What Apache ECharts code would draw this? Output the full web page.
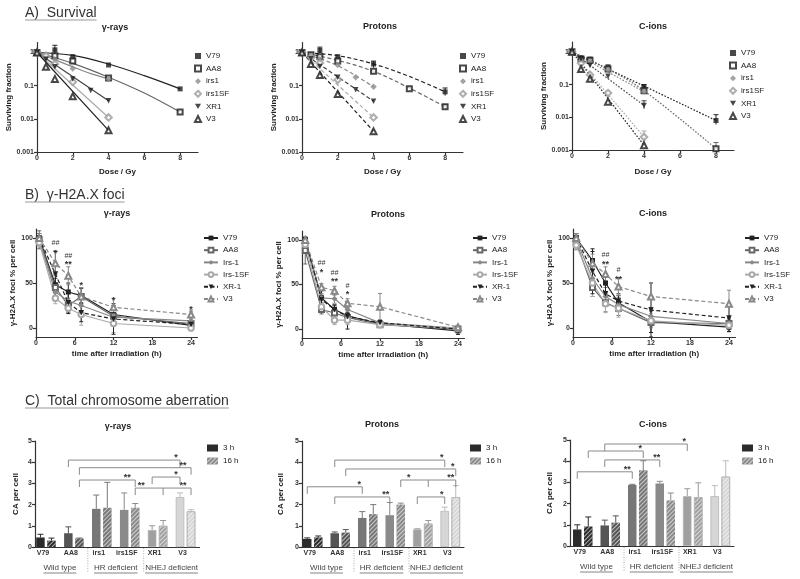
<!DOCTYPE html>
<html><head><meta charset="utf-8">
<script src="https://cdn.jsdelivr.net/npm/echarts@6/dist/echarts.min.js"></script>
<style>html,body{margin:0;padding:0;background:#fff}#c{width:800px;height:579px}</style>
</head><body><div id="c"></div>
<script>
const FONT = '"Liberation Sans", Arial, Helvetica, sans-serif';
const DOWN_TRI = 'path://M0,0L10,0L5,9Z';

// ================= DATA =================
// ---- A) Survival ----
const survCells = ['V79','AA8','irs1','irs1SF','XR1','V3'];
const doseTicks = [0,2,4,6,8];
const sfTicks = [0.001,0.01,0.1,1];

const survGammaPts = [
  [[0,1],[1,1.2],[2,0.75],[4,0.42],[8,0.08]],
  [[0,1],[1,0.8],[2,0.55],[4,0.17],[8,0.016]],
  [[0,1],[0.5,0.85],[1,0.62],[2,0.33],[4,0.16]],
  [[0,1],[0.5,0.8],[1,0.45],[2,0.13],[4,0.011]],
  [[0,1],[0.5,0.62],[1,0.37],[2,0.16],[3,0.072],[4,0.035]],
  [[0,1],[0.5,0.37],[1,0.16],[2,0.048],[4,0.0045]]
];
const survGammaFit = [
  [[0,1],[2,0.82],[4,0.45],[6,0.2],[8,0.08]],
  [[0,1],[2,0.47],[4,0.18],[6,0.06],[8,0.016]],
  [[0,1],[1,0.6],[2,0.37],[3,0.23],[4,0.16]],
  [[0,1],[4,0.011]],
  [[0,1],[4,0.035]],
  [[0,1],[4,0.0045]]
];
const survGammaErr = [[1,0.85,1.65,0]];

const survProtPts = [
  [[0,1],[1,1.15],[2,0.75],[4,0.45],[8,0.065]],
  [[0,1],[0.5,0.85],[1,0.75],[2,0.55],[4,0.27],[6,0.08],[8,0.023]],
  [[0,1],[0.5,0.8],[1,0.62],[2,0.42],[3,0.18],[4,0.093]],
  [[0,1],[0.5,0.7],[1,0.48],[2,0.15],[4,0.011]],
  [[0,1],[0.5,0.65],[1,0.38],[2,0.18],[3,0.075],[4,0.034]],
  [[0,1],[0.5,0.45],[1,0.21],[2,0.056],[4,0.0042]]
];
const survProtFit = [
  [[0,1],[2,0.8],[4,0.45],[6,0.19],[8,0.065]],
  [[0,1],[2,0.58],[4,0.27],[6,0.085],[8,0.023]],
  [[0,1],[1,0.65],[2,0.4],[3,0.2],[4,0.093]],
  [[0,1],[4,0.011]],
  [[0,1],[4,0.034]],
  [[0,1],[4,0.0042]]
];
const survProtErr = [[1,0.95,1.45,0],[4,0.35,0.55,0],[8,0.05,0.085,0],[8,0.02,0.027,1]];

const survCionPts = [
  [[0,1],[0.5,0.65],[1,0.6],[2,0.35],[4,0.085],[8,0.008]],
  [[0,1],[0.5,0.6],[1,0.55],[2,0.3],[4,0.065],[8,0.0011]],
  [[0,1],[0.5,0.55],[1,0.5],[2,0.28],[4,0.06]],
  [[0,1],[0.5,0.45],[1,0.2],[2,0.055],[4,0.0025]],
  [[0,1],[0.5,0.6],[1,0.38],[2,0.18],[4,0.023]],
  [[0,1],[0.5,0.3],[1,0.15],[2,0.03],[4,0.0014]]
];
const survCionFit = [
  [[0,1],[4,0.09],[8,0.008]],
  [[0,1],[2,0.3],[4,0.065],[8,0.0011]],
  [[0,1],[4,0.06]],
  [[0,1],[4,0.0025]],
  [[0,1],[4,0.023]],
  [[0,1],[4,0.0014]]
];
const survCionErr = [[8,0.006,0.012,0],[8,0.0009,0.0017,1],[4,0.0015,0.0038,3],[4,0.018,0.032,4],[4,0.07,0.1,0]];

// ---- B) gamma-H2A.X foci ----
const fociCells = ['V79','AA8','Irs-1','Irs-1SF','XR-1','V3'];
const fociTimes = [0.5,3,5,7,12,24];
const timeTicks = [0,6,12,18,24];
const fociTicks = [0,50,100];
const fociGamma = [
  [100,48,40,36,15,3],
  [98,45,25,35,13,5],
  [97,40,30,25,12,8],
  [95,33,22,15,5,0],
  [100,60,28,17,10,4],
  [100,72,58,35,23,15]
];
const fociGammaErr = [
  [5,12,10,8,10,5],
  [10,10,8,10,8,8],
  [5,10,12,12,10,10],
  [5,6,5,12,10,3],
  [5,25,12,10,17,4],
  [5,14,10,10,10,5]
];
const fociProt = [
  [100,35,22,15,6,-2],
  [88,22,18,13,5,0],
  [100,35,34,22,7,1],
  [95,25,10,10,5,1],
  [100,33,22,14,7,0],
  [100,47,43,29,25,2]
];
const fociProtErr = [
  [3,8,5,15,3,4],
  [15,5,3,5,3,3],
  [3,5,5,5,3,2],
  [5,5,5,5,3,2],
  [3,5,5,5,3,3],
  [3,4,5,5,15,2]
];
const fociCion = [
  [100,75,50,28,7,1],
  [95,45,28,22,6,5],
  [98,55,35,26,13,5],
  [92,50,27,22,8,3],
  [100,63,38,30,20,11],
  [100,72,60,46,35,27]
];
const fociCionErr = [
  [5,10,10,8,12,5],
  [8,10,10,8,5,5],
  [5,10,10,8,10,5],
  [5,15,10,10,8,5],
  [5,25,10,8,30,15],
  [5,10,8,10,15,15]
];
const starsGamma = [[3,94,'##'],[3,86,'*'],[5,80,'##'],[5,73,'**'],[7,50,'*'],[12,33,'*'],[24,23,'*']];
const starsProt = [[3,74,'##'],[3,66,'*'],[5,63,'##'],[5,56,'**'],[7,48,'#'],[7,42,'*']];
const starsCion = [[5,81,'##'],[5,73,'**'],[7,64,'#'],[7,57,'**']];

// ---- C) Total chromosome aberration ----
const caCells = ['V79','AA8','irs1','irs1SF','XR1','V3'];
const caGroups = [['Wild type',0,1],['HR deficient',2,3],['NHEJ deficient',4,5]];
const caGamma3h = [0.45,0.65,1.8,1.75,0.8,2.35];
const caGamma3hErr = [0.15,0.3,0.65,0.8,0.2,0.2];
const caGamma16h = [0.3,0.4,1.85,1.85,1.0,1.68];
const caGamma16hErr = [0.12,0.02,1.2,0.2,0.25,0.08];
const caProt3h = [0.38,0.65,1.37,1.5,0.83,1.7];
const caProt3hErr = [0.05,0.06,0.3,0.6,0.03,0.18];
const caProt16h = [0.45,0.68,1.55,2.0,1.1,2.35];
const caProt16hErr = [0.07,0.14,0.45,0.07,0.15,0.55];
const caCion3h = [0.78,0.97,2.88,2.95,2.35,2.35];
const caCion3hErr = [0.22,0.25,0.03,0.1,0.35,0.5];
const caCion16h = [0.92,1.1,3.57,2.15,2.3,3.27];
const caCion16hErr = [0.45,0.32,0.45,0.35,0.68,0.75];
// brackets: [y, [[cat,side],...], [[cat,side,dx,label],...]]
const bracketsGamma = [
  [4.1,[[1,-1],[5,-1]],[[5,-1,-4,'*']]],
  [3.74,[[1,1],[5,1]],[[5,1,-8,'**']]],
  [3.16,[[1,1],[3,1]],[[3,1,-8,'**']]],
  [2.78,[[3,1],[4,1],[5,1]],[[3,1,6,'**'],[5,1,-8,'**']]],
  [3.3,[[4,-1],[5,-1]],[[5,-1,-4,'*']]]
];
const bracketsProt = [
  [4.1,[[1,-1],[5,-1]],[[5,-1,-3,'*']]],
  [3.68,[[1,1],[5,1]],[[5,1,-3,'*']]],
  [2.84,[[0,-1],[2,-1]],[[2,-1,-3,'*']]],
  [2.36,[[1,-1],[3,-1]],[[3,-1,-4,'**']]],
  [3.16,[[3,1],[4,1],[5,1]],[[3,1,8,'*'],[5,1,-5,'**']]],
  [2.36,[[4,-1],[5,-1]],[[5,-1,-3,'*']]]
];
const bracketsCion = [
  [4.81,[[1,-1],[4,-1]],[[4,-1,-3,'*']]],
  [4.48,[[0,1],[2,1]],[[2,1,-3,'*']]],
  [4.06,[[1,-1],[3,-1]],[[3,-1,-3,'**']]],
  [3.5,[[0,-1],[2,-1]],[[2,-1,-5,'**']]]
];

// ================= STYLE / LAYOUT =================
const mctx = document.createElement('canvas').getContext('2d');
function tw(t, f){ mctx.font = f; return mctx.measureText(t).width; }

const survSym = ['rect','emptyRect','diamond','emptyDiamond',DOWN_TRI,'emptyTriangle'];
const survSize = [5,5,6.5,6.5,5.5,6];
const survCol = ['#1a1a1a','#1a1a1a','#8c8c8c','#9a9a9a','#1a1a1a','#1a1a1a'];
const survFitCol = ['#222','#666','#888','#aaa','#444','#222'];
const fociSym = ['rect','emptyRect','diamond','emptyCircle',DOWN_TRI,'emptyTriangle'];
const fociSize = [5,5,6,5.5,5.5,6];
const fociCol = ['#222','#666','#888','#aaa','#222','#888'];
const barShades = ['#2b2b2b','#555555','#777777','#8a8a8a','#a0a0a0','#d6d6d6'];
const errShades = ['#2b2b2b','#555555','#777777','#8a8a8a','#9a9a9a','#bbbbbb'];
const hatch = {symbol:'rect', symbolSize:1, color:'rgba(255,255,255,0.6)', dashArrayX:[1,0], dashArrayY:[1,1.3], rotation:-Math.PI/4};

const axLine = {show:true, onZero:false, lineStyle:{color:'#333', width:1.2}};
const axTickStyle = {show:true, length:3, lineStyle:{color:'#333', width:1.2}};
const axLabelStyle = {fontSize:7, fontWeight:'bold', color:'#333', fontFamily:FONT, margin:3};
const nameStyle = {fontSize:8, fontWeight:'bold', color:'#222', fontFamily:FONT};
const legendText = {fontSize:8, color:'#222', fontFamily:FONT, lineHeight:10};

const grids=[], xAxes=[], yAxes=[], series=[], legends=[], graphic=[];

function errRange(gi, arr, colors, cap, bothCaps, dxFn){
  return {type:'custom', xAxisIndex:gi, yAxisIndex:gi, silent:true, z:1, clip:false,
    data:arr, encode:{x:0, y:[1,2]},
    renderItem:(p, api)=>{
      const lo = api.coord([api.value(0), api.value(1)]);
      const hi = api.coord([api.value(0), api.value(2)]);
      const dx = dxFn ? dxFn(api) : 0;
      const x = lo[0]+dx;
      const st = {stroke:colors[api.value(3)], lineWidth:1};
      const ch = [
        {type:'line', shape:{x1:x, y1:lo[1], x2:x, y2:hi[1]}, style:st},
        {type:'line', shape:{x1:x-cap, y1:hi[1], x2:x+cap, y2:hi[1]}, style:st}
      ];
      if (bothCaps) ch.push({type:'line', shape:{x1:x-cap, y1:lo[1], x2:x+cap, y2:lo[1]}, style:st});
      return {type:'group', children:ch};
    }};
}
function txt(x, y, t, font, fill, align, valign){
  return {type:'text', x:x, y:y, style:{text:t, font:font, fill:fill||'#222', textAlign:align||'center', align:align||'center', textVerticalAlign:valign||'middle', verticalAlign:valign||'middle'}};
}

// ---------- headers ----------
[['A)  Survival',13],['B)  \u03b3-H2A.X foci',195],['C)  Total chromosome aberration',401]].forEach(h=>{
  const f = '14px '+FONT;
  graphic.push(txt(25, h[1], h[0], f, '#333', 'left', 'middle'));
  graphic.push({type:'line', shape:{x1:25, y1:h[1]+7, x2:25+tw(h[0], f), y2:h[1]+7}, style:{stroke:'#999', lineWidth:1}});
});

// ---------- A panels ----------
const survPanels = [
  {pts:survGammaPts, fit:survGammaFit, err:survGammaErr, dash:'solid', title:'\u03b3-rays', tx:115, ty:28,
   grid:{left:37, top:42.5, width:161, height:109.5}, lgLeft:194, lgTop:51, xGap:16},
  {pts:survProtPts, fit:survProtFit, err:survProtErr, dash:[4,2.5], title:'Protons', tx:380, ty:27,
   grid:{left:302, top:42.5, width:161, height:109.5}, lgLeft:459, lgTop:51, xGap:16},
  {pts:survCionPts, fit:survCionFit, err:survCionErr, dash:[1.6,1.6], title:'C-ions', tx:653, ty:27,
   grid:{left:572, top:42, width:162, height:108}, lgLeft:729, lgTop:48, xGap:18}
];
survPanels.forEach((P, p)=>{
  const gi = grids.length;
  grids.push(P.grid);
  xAxes.push({type:'value', gridIndex:gi, min:0, max:9, axisLine:axLine,
    axisTick:Object.assign({customValues:doseTicks}, axTickStyle),
    axisLabel:Object.assign({customValues:doseTicks}, axLabelStyle),
    splitLine:{show:false}, name:'Dose / Gy', nameLocation:'middle', nameGap:P.xGap, nameTextStyle:nameStyle});
  yAxes.push({type:'log', logBase:10, gridIndex:gi, min:0.001, max:2, axisLine:axLine,
    axisTick:Object.assign({customValues:sfTicks}, axTickStyle),
    axisLabel:Object.assign({customValues:sfTicks, formatter:v=>String(+(+v).toPrecision(2))}, axLabelStyle),
    minorTick:{show:false}, splitLine:{show:false},
    name:'Surviving fraction', nameLocation:'middle', nameGap:22.5, nameTextStyle:nameStyle});
  P.fit.forEach((d,k)=>series.push({type:'line', name:'fit'+p+'_'+k, xAxisIndex:gi, yAxisIndex:gi, data:d,
    smooth:0.35, symbol:'none', silent:true, z:2, lineStyle:{color:survFitCol[k], width:1.2, type:P.dash}}));
  series.push(errRange(gi, P.err, survFitCol, 2.5, false));
  P.pts.forEach((d,k)=>series.push({type:'scatter', name:'A:'+survCells[k], xAxisIndex:gi, yAxisIndex:gi, data:d,
    symbol:survSym[k], symbolSize:survSize[k], itemStyle:{color:survCol[k], borderWidth:1}, z:4}));
  legends.push({orient:'vertical', left:P.lgLeft, top:P.lgTop, padding:0, itemGap:2.6, itemWidth:6, itemHeight:6,
    selectedMode:false, data:survCells.map(c=>'A:'+c), formatter:n=>n.slice(2), textStyle:legendText});
  graphic.push(txt(P.tx, P.ty, P.title, 'bold 9px '+FONT, '#222'));
});

// ---------- B panels ----------
const fociPanels = [
  {vals:fociGamma, err:fociGammaErr, stars:starsGamma, title:'\u03b3-rays', tx:117, ty:214,
   grid:{left:36, top:229, width:161.5, height:108}, lgLeft:203},
  {vals:fociProt, err:fociProtErr, stars:starsProt, title:'Protons', tx:388, ty:215,
   grid:{left:302, top:231, width:162.5, height:107}, lgLeft:472},
  {vals:fociCion, err:fociCionErr, stars:starsCion, title:'C-ions', tx:653, ty:214,
   grid:{left:573, top:229, width:162.5, height:108}, lgLeft:744}
];
fociPanels.forEach((P, p)=>{
  const gi = grids.length;
  grids.push(P.grid);
  xAxes.push({type:'value', gridIndex:gi, min:0, max:25, axisLine:axLine,
    axisTick:Object.assign({customValues:timeTicks}, axTickStyle),
    axisLabel:Object.assign({customValues:timeTicks}, axLabelStyle),
    splitLine:{show:false}, name:'time after irradiation (h)', nameLocation:'middle', nameGap:13, nameTextStyle:nameStyle});
  yAxes.push({type:'value', gridIndex:gi, min:-10, max:110, axisLine:axLine,
    axisTick:Object.assign({customValues:fociTicks}, axTickStyle),
    axisLabel:Object.assign({customValues:fociTicks}, axLabelStyle),
    splitLine:{show:false}, name:'\u03b3-H2A.X foci % per cell', nameLocation:'middle', nameGap:19.5, nameTextStyle:nameStyle});
  const errData = [];
  P.vals.forEach((row,k)=>row.forEach((v,i)=>errData.push([fociTimes[i], v-P.err[k][i], v+P.err[k][i], k])));
  series.push(errRange(gi, errData, fociCol, 2, true));
  P.vals.forEach((row,k)=>series.push({type:'line', name:'B:'+fociCells[k], xAxisIndex:gi, yAxisIndex:gi,
    data:fociTimes.map((t,i)=>[t,row[i]]), symbol:fociSym[k], symbolSize:fociSize[k], z:3,
    lineStyle:{color:fociCol[k], width:1.2, type:k>=4?[4,2.5]:'solid'}, itemStyle:{color:fociCol[k], borderWidth:1}}));
  const st = P.stars;
  series.push({type:'custom', xAxisIndex:gi, yAxisIndex:gi, silent:true, z:6, clip:false,
    data:st.map(s=>[s[0],s[1]]),
    renderItem:(prm, api)=>{
      const pt = api.coord([api.value(0), api.value(1)]);
      const t = st[prm.dataIndex][2];
      const dy = t.indexOf('*')>=0 ? 2.5 : 0;
      return txt(pt[0], pt[1]+dy, t, (t.indexOf('#')>=0?'italic 7px ':'bold 9px ')+FONT, '#333');
    }});
  legends.push({orient:'vertical', left:P.lgLeft, top:233, padding:0, itemGap:2.2, itemWidth:14, itemHeight:6,
    selectedMode:false, data:fociCells.map(c=>'B:'+c), formatter:n=>n.slice(2), textStyle:legendText});
  graphic.push(txt(P.tx, P.ty, P.title, 'bold 9px '+FONT, '#222'));
});

// ---------- C panels ----------
const caPanels = [
  {v3:caGamma3h, e3:caGamma3hErr, v16:caGamma16h, e16:caGamma16hErr, br:bracketsGamma, title:'\u03b3-rays', tx:118, ty:427,
   grid:{left:32, top:441, width:167.5, height:106}, yOff:-3, nameGap:15.5, lgLeft:207, lgTop:443},
  {v3:caProt3h, e3:caProt3hErr, v16:caProt16h, e16:caProt16hErr, br:bracketsProt, title:'Protons', tx:382, ty:425,
   grid:{left:299, top:441, width:165, height:106}, yOff:-3, nameGap:17, lgLeft:470, lgTop:443},
  {v3:caCion3h, e3:caCion3hErr, v16:caCion16h, e16:caCion16hErr, br:bracketsCion, title:'C-ions', tx:653, ty:425,
   grid:{left:569, top:440, width:165, height:106}, yOff:-1, nameGap:16.5, lgLeft:742, lgTop:443}
];
const BAR_OFF = 5.5;
caPanels.forEach((P, p)=>{
  const gi = grids.length;
  grids.push(P.grid);
  xAxes.push({type:'category', gridIndex:gi, data:caCells, axisLine:axLine, axisTick:{show:false},
    axisLabel:Object.assign({}, axLabelStyle, {margin:3, padding:[0,6,0,0], interval:0}), splitLine:{show:false}});
  yAxes.push({type:'value', gridIndex:gi, min:0, max:5, interval:1, offset:P.yOff, axisLine:axLine,
    axisTick:axTickStyle, axisLabel:axLabelStyle, splitLine:{show:false},
    name:'CA per cell', nameLocation:'middle', nameGap:P.nameGap, nameTextStyle:nameStyle});
  series.push({type:'bar', name:'3 h', xAxisIndex:gi, yAxisIndex:gi, barWidth:8.5, barGap:'30%', z:2,
    itemStyle:{color:'#2b2b2b'},
    data:P.v3.map((v,i)=>({value:v, itemStyle:{color:barShades[i], borderColor:i>=4?'#b0b0b0':barShades[i], borderWidth:i>=4?0.7:0}}))});
  series.push({type:'bar', name:'16 h', xAxisIndex:gi, yAxisIndex:gi, barWidth:8.5, barGap:'30%', z:2,
    itemStyle:{color:'#8c8c8c', decal:hatch},
    data:P.v16.map((v,i)=>({value:v, itemStyle:{color:barShades[i], decal:hatch, borderColor:i>=4?'#b0b0b0':barShades[i], borderWidth:i>=4?0.7:0}}))});
  const eData = P.v3.map((v,i)=>[i, v, v+P.e3[i], i, -1]).concat(P.v16.map((v,i)=>[i, v, v+P.e16[i], i, 1]));
  series.push(errRange(gi, eData, errShades, 3, false, api=>api.value(4)*BAR_OFF));
  const br = P.br;
  series.push({type:'custom', xAxisIndex:gi, yAxisIndex:gi, silent:true, z:5, clip:false,
    data:br.map(b=>[b[1][0][0], b[0]]),
    renderItem:(prm, api)=>{
      const b = br[prm.dataIndex];
      const y = api.coord([0, b[0]])[1];
      const bx = (c,s)=>api.coord([c, 0])[0] + s*BAR_OFF;
      const st = {stroke:'#8a8a8a', lineWidth:1};
      const xs = b[1].map(q=>bx(q[0], q[1]));
      const ch = [{type:'line', shape:{x1:xs[0], y1:y, x2:xs[xs.length-1], y2:y}, style:st}];
      xs.forEach(x=>ch.push({type:'line', shape:{x1:x, y1:y, x2:x, y2:y+7}, style:st}));
      b[2].forEach(l=>ch.push(txt(bx(l[0], l[1])+l[2], y+2, l[3], 'bold 9px '+FONT, '#333', 'center', 'bottom')));
      return {type:'group', children:ch};
    }});
  series.push({type:'custom', xAxisIndex:gi, yAxisIndex:gi, silent:true, z:5, clip:false,
    data:caGroups.map(g=>[g[1], 0]),
    renderItem:(prm, api)=>{
      const g = caGroups[prm.dataIndex];
      const x1 = api.coord([g[1], 0])[0], x2 = api.coord([g[2], 0])[0];
      const y0 = api.coord([0, 0])[1];
      const cx = (x1+x2)/2, f = '8px '+FONT;
      const w = tw(g[0], f);
      const ch = [txt(cx, y0+21, g[0], f, '#444'),
        {type:'line', shape:{x1:cx-w/2, y1:y0+26, x2:cx+w/2, y2:y0+26}, style:{stroke:'#666', lineWidth:0.8}}];
      if (prm.dataIndex>0){
        const sx = (api.coord([g[1]-1, 0])[0] + x1)/2;
        ch.push({type:'line', shape:{x1:sx, y1:y0+1, x2:sx, y2:y0+26}, style:{stroke:'#999', lineWidth:0.8, lineDash:[1,1.5]}});
      }
      return {type:'group', children:ch};
    }});
  legends.push({orient:'vertical', left:P.lgLeft, top:P.lgTop, padding:0, itemGap:3, itemWidth:11, itemHeight:7, icon:'rect',
    selectedMode:false, data:['3 h','16 h'], textStyle:legendText});
  graphic.push(txt(P.tx, P.ty, P.title, 'bold 9px '+FONT, '#222'));
});

const chart = echarts.init(document.getElementById('c'));
chart.setOption({
  animation:false,
  backgroundColor:'#fff',
  textStyle:{fontFamily:FONT},
  grid:grids, xAxis:xAxes, yAxis:yAxes, legend:legends, series:series, graphic:graphic
});
</script></body></html>
